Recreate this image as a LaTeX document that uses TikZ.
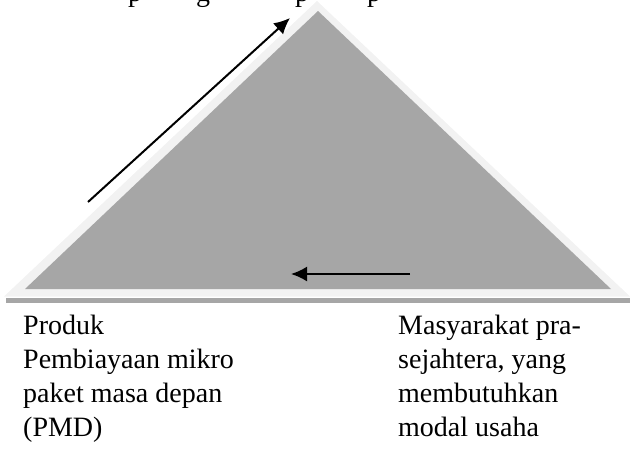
\documentclass[tikz,border=0pt]{standalone}
\usepackage{fontspec}
\setmainfont{Liberation Serif}
\usetikzlibrary{arrows.meta}
\definecolor{lightband}{HTML}{F2F2F2}
\definecolor{midgray}{HTML}{A6A6A6}
\tikzset{
  flow/.style={line width=2pt,-{Latex[length=16pt,width=15pt]}},
  label/.style={inner sep=0pt,align=left,font=\fontsize{28}{34}\selectfont},
  topchar/.style={inner sep=0pt,anchor=base west,font=\fontsize{28}{34}\selectfont}
}
\begin{document}
\begin{tikzpicture}[x=1pt,y=-1pt]
\useasboundingbox (0,0) rectangle (630,450);
% hidden top line (only descenders visible)
\node[topchar] (t1) at (128,1) {p};
\node[topchar] (t2) at (196,1) {g};
\node[topchar] (t3) at (295,1) {p};
\node[topchar] (t4) at (367,1) {p};
% shadow strip
\fill[midgray] (6,298) rectangle (630,302.5);
% outer light triangle
\fill[lightband] (4,296.5) -- (317,1) -- (630,296.5) -- cycle;
% inner gray triangle
\fill[midgray] (25,289) -- (318,11) -- (611,289) -- cycle;
% arrows
\coordinate (a1s) at (88,202);
\coordinate (a1e) at (290,18);
\coordinate (a2s) at (410,274);
\coordinate (a2e) at (291,274);
\draw[flow] (a1s) -- (a1e);
\draw[flow] (a2s) -- (a2e);
% labels (base anchor = baseline of last line)
\node[label,anchor=base west] (left) at (23,436) {Produk\\Pembiayaan mikro\\paket masa depan\\(PMD)};
\node[label,anchor=base west] (right) at (398,436) {Masyarakat pra-\\sejahtera, yang\\membutuhkan\\modal usaha};
\end{tikzpicture}
\end{document}
